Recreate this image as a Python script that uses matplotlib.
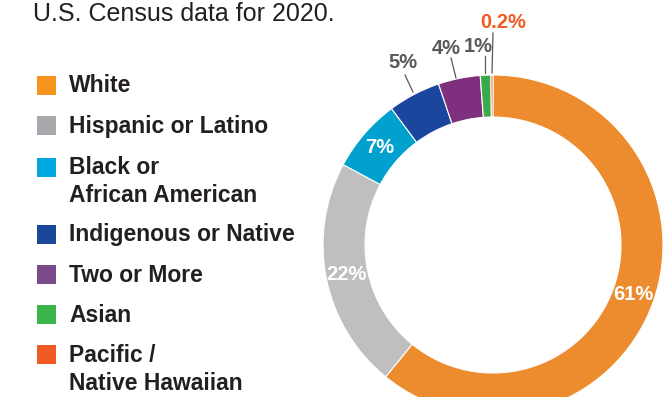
import numpy as np
import matplotlib
matplotlib.use("Agg")
from matplotlib import pyplot as plt

# data
groups = ["White", "Hispanic or Latino", "Black or\nAfrican American",
          "Indigenous or Native", "Two or More", "Asian",
          "Pacific /\nNative Hawaiian"]
shares = [61, 22, 7, 5, 4, 1, 0.2]
share_labels = ["61%", "22%", "7%", "5%", "4%", "1%", "0.2%"]

ring_colors = ["#ED8B2F", "#BFBFBF", "#00A0CF", "#1A479D", "#7E307E", "#3BAA4A", "#F15A22"]
key_colors = ["#F7941D", "#A7A9AC", "#00A8E1", "#1B479B", "#7B4A8B", "#3AB54A", "#F15A22"]

W, H = 668, 397
fig = plt.figure(figsize=(W / 100, H / 100), dpi=100)
ax = fig.add_axes([0, 0, 1, 1])

def py(y):
    # pixel row (from top) -> data y
    return H - y

cx, cy, R, ring = 493, py(245), 170, 42
wedges, _ = ax.pie(shares, colors=ring_colors, startangle=90, counterclock=False,
                   center=(cx, cy), radius=R,
                   wedgeprops=dict(width=ring, edgecolor="white", linewidth=0.8))

ax.set_xlim(0, W)
ax.set_ylim(0, H)
ax.set_aspect("equal")
ax.axis("off")

bold = dict(family=["Liberation Sans", "DejaVu Sans"], weight="bold")

# labels inside the ring for the big slices
for w, lab in list(zip(wedges, share_labels))[:3]:
    mid = np.deg2rad((w.theta1 + w.theta2) / 2)
    r = R - ring / 2
    ax.text(cx + r * np.cos(mid), cy + r * np.sin(mid), lab, color="white",
            fontsize=14.5, ha="center", va="center", **bold)

# small slices get outside labels with leader lines
outside = [  # label x, label y, line start, line end (pixels)
    (403, 63, (413, 92), (405, 75)),
    (446, 48, (456, 78), (451, 58)),
    (478, 46, (485, 73), (485, 56)),
    (503, 22, (492, 73), (493, 33)),
]
for i, (lx, ly, p0, p1) in enumerate(outside):
    lab = share_labels[3 + i]
    col = "#F15A22" if i == 3 else "#58595B"
    ax.plot([p0[0], p1[0]], [py(p0[1]), py(p1[1])], color="#58595B", lw=0.9)
    ax.text(lx, py(ly), lab, color=col, fontsize=14.5, ha="center", va="center", **bold)

# title (cut at top)
ax.text(33, py(21), "U.S. Census data for 2020.", fontsize=18, color="#231F20",
        family=["Liberation Sans", "DejaVu Sans"], ha="left", va="baseline")

# key
key_y = [85, 125, 167, 234, 274, 314, 354]
for name, col, y in zip(groups, key_colors, key_y):
    ax.add_patch(plt.Rectangle((37, py(y) - 9.5), 19, 19, color=col, lw=0))
    lines = name.split("\n")
    for j, line in enumerate(lines):
        ax.text(69, py(y + 7.5 + 28 * j), line, fontsize=16.5, color="#231F20",
                ha="left", va="baseline", **bold)

fig.savefig("out.png", dpi=100)
